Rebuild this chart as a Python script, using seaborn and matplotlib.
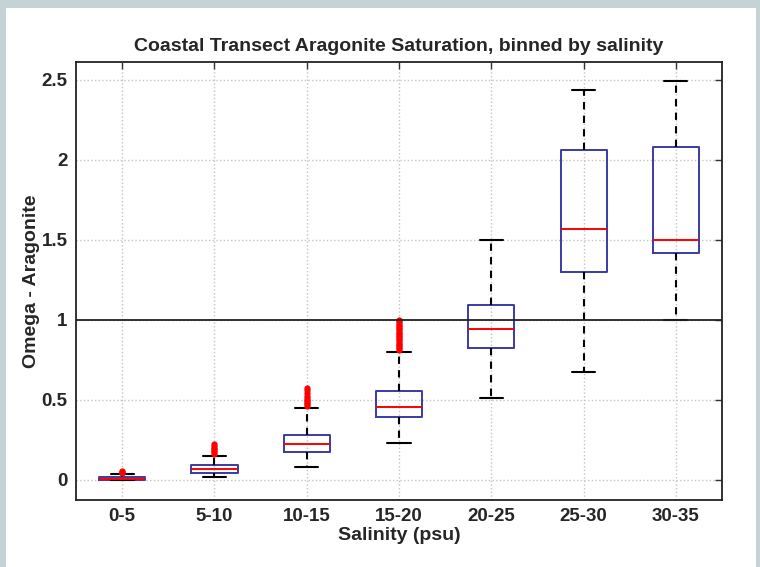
import numpy as np
import pandas as pd
import seaborn as sns
import matplotlib.pyplot as plt
from matplotlib.patches import Rectangle

# salinity bins and box statistics
bins = ['0-5', '5-10', '10-15', '15-20', '20-25', '25-30', '30-35']
q1 = [0.0, 0.04, 0.17, 0.39, 0.82, 1.30, 1.42]
med = [0.005, 0.065, 0.22, 0.455, 0.94, 1.565, 1.50]
q3 = [0.015, 0.09, 0.28, 0.555, 1.095, 2.06, 2.08]
whis_lo = [0.0, 0.015, 0.077, 0.23, 0.51, 0.67, 1.0]
whis_hi = [0.035, 0.15, 0.45, 0.80, 1.50, 2.44, 2.495]

# outliers (red crosses in the original)
out_0_5 = [0.04, 0.045, 0.05, 0.055]
out_5_10 = [0.16, 0.17, 0.18, 0.19, 0.2, 0.21, 0.22]
out_10_15 = [0.46, 0.47, 0.48, 0.49, 0.5, 0.51, 0.52, 0.54, 0.56, 0.57]
out_15_20 = [0.81, 0.82, 0.83, 0.84, 0.85, 0.86, 0.87, 0.88, 0.89, 0.9,
             0.91, 0.92, 0.93, 0.94, 0.95, 0.96, 0.97, 0.98, 0.99, 1.0]
outliers = [out_0_5, out_5_10, out_10_15, out_15_20, [], [], []]

yticks = [0, 0.5, 1, 1.5, 2, 2.5]
ytick_labels = ['0', '0.5', '1', '1.5', '2', '2.5']

sns.set_theme(style='white')
plt.rcParams['font.family'] = ['Liberation Sans', 'DejaVu Sans']
plt.rcParams['font.weight'] = 'bold'

fig = plt.figure(figsize=(7.6, 5.67), dpi=100, facecolor='#c6d3d6')
# white panel inside the grey frame
fig.patches.append(Rectangle((6 / 760, 0), 750 / 760, 1 - 8 / 567,
                             transform=fig.transFigure, facecolor='white',
                             edgecolor='none', zorder=-5))
ax = fig.add_axes([76 / 760, 1 - 500 / 567, 646 / 760, 438 / 567])

stats = []
for i, b in enumerate(bins):
    stats.append(dict(label=b, q1=q1[i], med=med[i], q3=q3[i],
                      whislo=whis_lo[i], whishi=whis_hi[i], fliers=[]))

box_col = '#3a3aa6'
ax.bxp(stats, positions=range(len(bins)), widths=0.5, showfliers=False,
       boxprops=dict(color=box_col, lw=1.4),
       medianprops=dict(color='red', lw=1.4),
       whiskerprops=dict(color='black', lw=1.5, ls=(0, (3.5, 3))),
       capprops=dict(color='black', lw=1.5), capwidths=0.25)

# outliers through seaborn
df_out = pd.DataFrame({
    'Salinity': [b for b, o in zip(bins, outliers) for _ in o],
    'Omega': [v for o in outliers for v in o],
})
sns.stripplot(data=df_out, x='Salinity', y='Omega', order=bins, jitter=False,
              color='red', marker='o', size=4.5, linewidth=0, ax=ax, zorder=3)

ax.axhline(1, color='#222222', lw=1.3, zorder=4)

ax.set_xlim(-0.5, len(bins) - 0.5)
ax.set_ylim(-0.128, 2.6125)
ax.set_xticks(range(len(bins)))
ax.set_xticklabels(bins, fontsize=13.5, fontweight='bold')
ax.set_yticks(yticks)
ax.set_yticklabels(ytick_labels, fontsize=13.5, fontweight='bold')

ax.grid(True, ls=':', color='#c4c4c4', lw=1)
ax.set_axisbelow(True)
ax.tick_params(direction='in', top=True, right=True, length=5, width=1,
               color='#333333', pad=6)
for sp in ax.spines.values():
    sp.set_color('#222222')
    sp.set_linewidth(1.3)

ax.set_title('Coastal Transect Aragonite Saturation, binned by salinity',
             fontsize=14, fontweight='bold', pad=8)
ax.set_xlabel('Salinity (psu)', fontsize=14, fontweight='bold', labelpad=1)
ax.set_ylabel('Omega - Aragonite', fontsize=14, fontweight='bold', labelpad=1)

fig.savefig('out.png', dpi=100, facecolor=fig.get_facecolor())
